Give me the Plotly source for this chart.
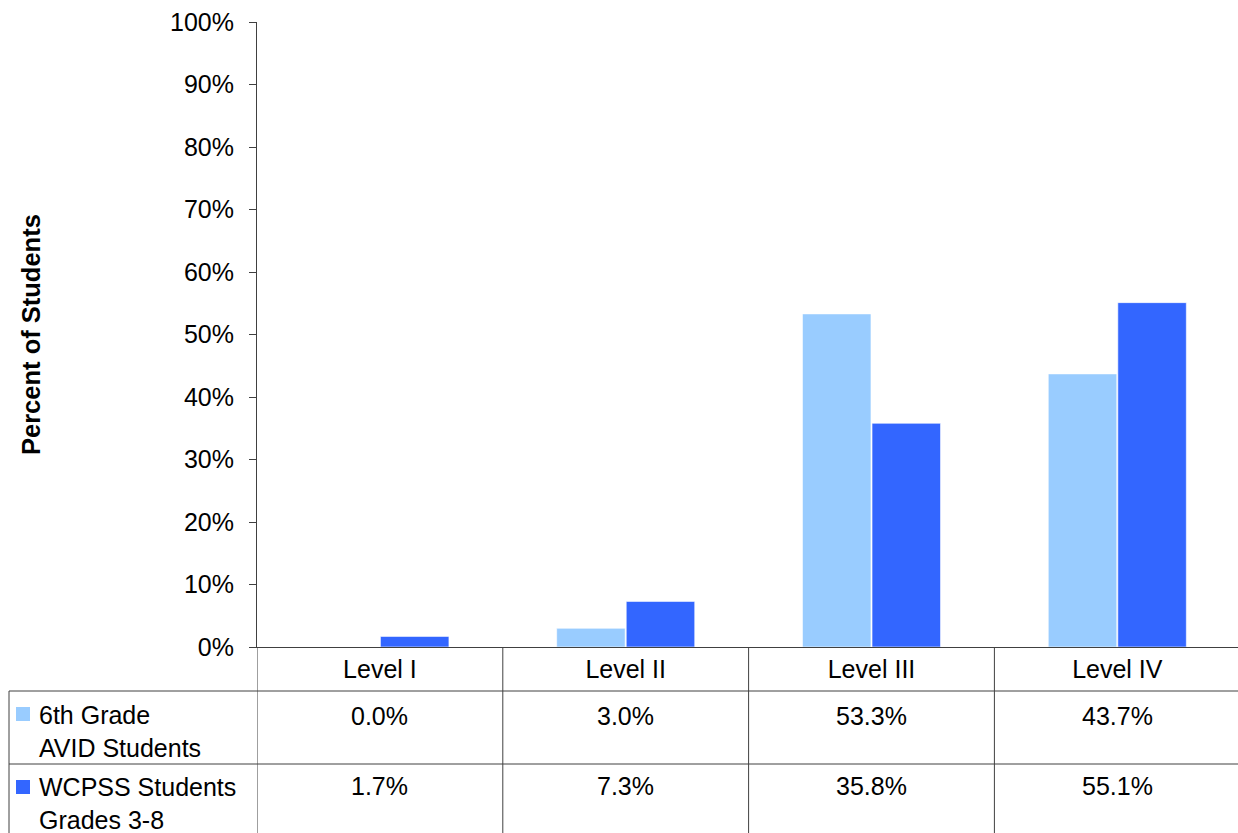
import plotly.graph_objects as go

categories = ["Level I", "Level II", "Level III", "Level IV"]
series_names = ["6th Grade<br>AVID Students", "WCPSS Students<br>Grades 3-8"]
avid_values = [0.0, 3.0, 53.3, 43.7]
wcpss_values = [1.7, 7.3, 35.8, 55.1]
y_tick_values = [0, 10, 20, 30, 40, 50, 60, 70, 80, 90, 100]
y_tick_labels = [f"{v}%" for v in y_tick_values]
y_title = "Percent of Students"

colors = ["#99CCFF", "#3366FF"]
line_color = "#404040"
FONT = "Liberation Sans, Arial, sans-serif"
FS = 25

W, H = 1238, 833
P_LEFT, P_RIGHT, P_TOP, P_BOTTOM = 257, 1238, 22, 647
L = P_LEFT
T = P_TOP
R = W - P_RIGHT
B = H - P_BOTTOM
plot_w = P_RIGHT - P_LEFT
plot_h = P_BOTTOM - P_TOP

def px_y(py):
    return (P_BOTTOM - py) / plot_h

def px_x(px):
    return (px - P_LEFT) / plot_w

cat_w_px = 245.8
x_max = -0.5 + plot_w / cat_w_px

fig = go.Figure()
all_values = [avid_values, wcpss_values]
for name, vals, col in zip(series_names, all_values, colors):
    fig.add_trace(go.Bar(
        x=list(range(len(categories))), y=vals, name=name.replace("<br>", " "),
        marker=dict(color=col, line=dict(color="rgba(255,255,255,0.6)", width=1)),
        showlegend=False, hoverinfo="skip",
    ))

shapes = []
ann = []
row1_line = 691
row2_line = 764
bottom = 840
left_border = 9

for i in range(len(categories) + 1):
    xb = i - 0.5
    shapes.append(dict(type="line", xref="x", yref="paper", x0=xb, x1=xb,
                       y0=0, y1=px_y(bottom), line=dict(color=line_color, width=1)))
for ry in (row1_line, row2_line):
    shapes.append(dict(type="line", xref="paper", yref="paper", x0=px_x(left_border), x1=1.01,
                       y0=px_y(ry), y1=px_y(ry), line=dict(color=line_color, width=1)))
shapes.append(dict(type="line", xref="paper", yref="paper", x0=px_x(left_border), x1=px_x(left_border),
                   y0=px_y(row1_line), y1=px_y(bottom), line=dict(color=line_color, width=1)))

row_value_y = [716, 786]
row_label_y = [731.5, 803.5]
key_top = [707, 780]
for k, (name, vals, col) in enumerate(zip(series_names, all_values, colors)):
    shapes.append(dict(type="rect", xref="paper", yref="paper",
                       x0=px_x(16), x1=px_x(30), y0=px_y(key_top[k]), y1=px_y(key_top[k] + 14),
                       fillcolor=col, line=dict(width=0)))
    ann.append(dict(text=name, xref="paper", yref="paper", x=px_x(37), y=px_y(row_label_y[k]),
                    xanchor="left", yanchor="middle", align="left", showarrow=False,
                    font=dict(family=FONT, size=FS, color="black")))
    for i, v in enumerate(vals):
        ann.append(dict(text=f"{v:.1f}%", xref="x", yref="paper", x=i, y=px_y(row_value_y[k]),
                        xanchor="center", yanchor="middle", showarrow=False,
                        font=dict(family=FONT, size=FS, color="black")))

ann.append(dict(text=f"<b>{y_title}</b>", xref="paper", yref="paper", x=px_x(31), y=px_y(335),
                xanchor="center", yanchor="middle", textangle=-90, showarrow=False,
                font=dict(family=FONT, size=25.5, color="black")))

fig.update_layout(
    width=W, height=H,
    margin=dict(l=L, r=R, t=T, b=B, autoexpand=False),
    paper_bgcolor="white", plot_bgcolor="white",
    barmode="group", bargap=0.434, bargroupgap=0.015,
    font=dict(family=FONT, size=FS, color="black"),
    shapes=shapes, annotations=ann,
    hovermode=False,
    xaxis=dict(range=[-0.5, x_max], tickmode="array", tickvals=list(range(len(categories))),
               ticktext=categories, showline=True, linecolor=line_color, linewidth=1,
               ticks="", showgrid=False, zeroline=False, fixedrange=True,
               tickfont=dict(family=FONT, size=FS, color="black")),
    yaxis=dict(range=[0, 100], tickmode="array", tickvals=y_tick_values, ticktext=y_tick_labels,
               showline=True, linecolor=line_color, linewidth=1, ticks="outside", ticklen=7,
               tickcolor=line_color, showgrid=False, zeroline=False, ticklabelstandoff=10,
               fixedrange=True, tickfont=dict(family=FONT, size=FS, color="black")),
)

fig.write_html(
    "out.html",
    config={"displayModeBar": False, "staticPlot": True},
    post_script="document.body.style.margin='0';document.body.style.overflow='hidden';",
)
